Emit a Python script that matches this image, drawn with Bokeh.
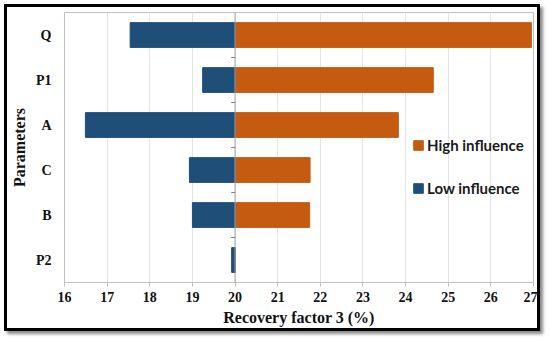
from bokeh.plotting import figure
from bokeh.models import FixedTicker, Range1d, ColumnDataSource, Legend, LegendItem
from bokeh.embed import file_html
from bokeh.resources import INLINE

# ---- data (bottom to top) ----
categories = ["P2", "B", "C", "A", "P1", "Q"]
low_influence = [19.92, 19.0, 18.93, 16.49, 19.24, 17.54]
high_influence = [20.01, 21.75, 21.76, 23.83, 24.65, 26.95]
base_value = 20.0
x_ticks = [16, 17, 18, 19, 20, 21, 22, 23, 24, 25, 26, 27]

BLUE = "#1F4E79"
ORANGE = "#C55A11"

W, H = 536, 327

ypos = list(range(len(categories)))
src = ColumnDataSource(dict(
    y=ypos,
    low=low_influence,
    high=high_influence,
    base=[base_value] * len(categories),
))

p = figure(
    width=W, height=H,
    output_backend="svg", toolbar_location=None,
    x_range=Range1d(x_ticks[0], x_ticks[-1]),
    y_range=Range1d(-0.5, len(categories) - 0.5),
    min_border_left=54, min_border_right=10, min_border_top=5, min_border_bottom=52,
)
p.styles = {"border": "3px solid black", "box-shadow": "3px 3px 3px #8a8a8a",
            "margin": "4px 0px 0px 4px"}

r_high = p.hbar(y="y", left="base", right="high", height=0.55, source=src,
                fill_color=ORANGE, line_color=ORANGE)
r_low = p.hbar(y="y", left="low", right="base", height=0.55, source=src,
               fill_color=BLUE, line_color=BLUE)

# centre line at base value with small category-boundary ticks
p.segment(x0=[base_value], x1=[base_value], y0=[-0.5], y1=[len(categories) - 0.5],
          line_color="#A6A6A6", line_width=1)
bnd = [i + 0.5 for i in ypos[:-1]]
p.segment(x0=[base_value - 0.09] * len(bnd), x1=[base_value] * len(bnd), y0=bnd, y1=bnd,
          line_color="#7F7F7F", line_width=1)

p.outline_line_color = "#BFBFBF"
p.background_fill_color = "white"
p.border_fill_color = "white"

# grid
p.xgrid.ticker = FixedTicker(ticks=x_ticks)
p.xgrid.grid_line_color = "#E3E3E3"
p.ygrid.grid_line_color = None

# x axis
xa = p.xaxis[0]
xa.ticker = FixedTicker(ticks=x_ticks)
xa.axis_line_color = "#BFBFBF"
xa.major_tick_line_color = "#BFBFBF"
xa.major_tick_out = 4
xa.major_tick_in = 0
xa.minor_tick_line_color = None
xa.major_label_text_font = "Liberation Serif"
xa.major_label_text_font_style = "bold"
xa.major_label_text_font_size = "14px"
xa.major_label_text_color = "#111111"
xa.major_label_standoff = 5
xa.axis_label = "Recovery factor 3 (%)"
xa.axis_label_text_font = "Liberation Serif"
xa.axis_label_text_font_style = "bold"
xa.axis_label_text_font_size = "16px"
xa.axis_label_text_color = "#111111"
xa.axis_label_standoff = 4

# y axis
ya = p.yaxis[0]
ya.ticker = FixedTicker(ticks=ypos)
ya.major_label_overrides = {i: c for i, c in zip(ypos, categories)}
ya.axis_line_color = None
ya.major_tick_line_color = None
ya.minor_tick_line_color = None
ya.major_tick_out = 0
ya.major_label_standoff = 13
ya.major_label_text_font = "Liberation Serif"
ya.major_label_text_font_style = "bold"
ya.major_label_text_font_size = "14px"
ya.major_label_text_color = "#111111"
ya.axis_label = "Parameters"
ya.axis_label_text_font = "Liberation Serif"
ya.axis_label_text_font_style = "bold"
ya.axis_label_text_font_size = "16px"
ya.axis_label_text_color = "#111111"
ya.axis_label_standoff = 5

legend = Legend(
    items=[LegendItem(label="High influence", renderers=[r_high]),
           LegendItem(label="Low influence", renderers=[r_low])],
    location=(348, 85),
    orientation="vertical",
    glyph_width=12, glyph_height=12,
    label_height=12,
    spacing=25,
    label_standoff=3,
    padding=0, margin=0,
    border_line_color=None,
    background_fill_alpha=0,
    label_text_font="Lato",
    label_text_font_style="bold",
    label_text_font_size="15px",
    label_text_color="#1a1a1a",
)
p.add_layout(legend)

open("out.html", "w").write(file_html(p, INLINE))
